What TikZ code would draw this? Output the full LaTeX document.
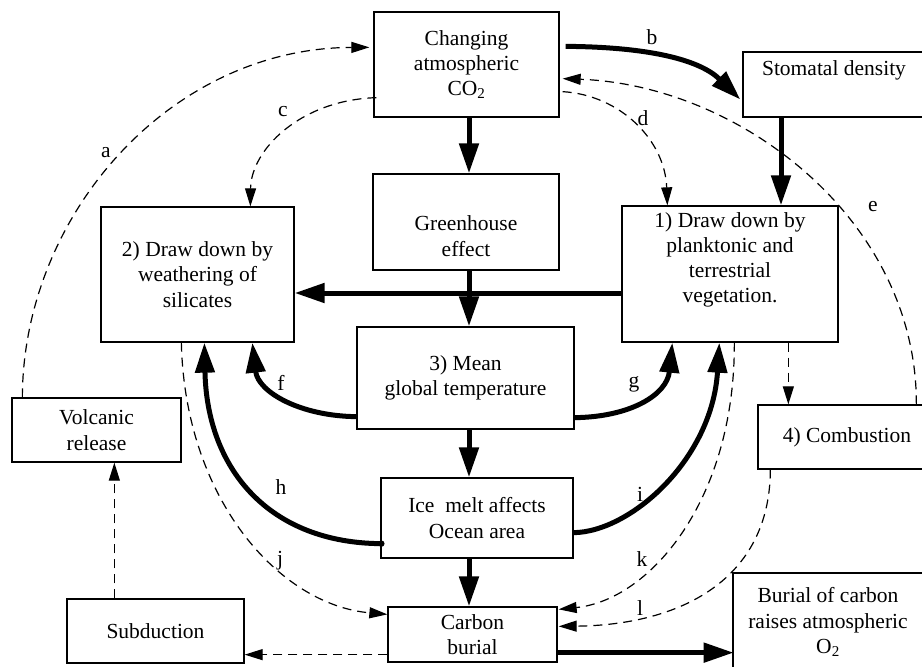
\documentclass[tikz,border=0pt]{standalone}
\usepackage{fontspec}
\setmainfont{Liberation Serif}
\usetikzlibrary{arrows.meta,calc}
\begin{document}
\begin{tikzpicture}[x=1pt,y=-1pt,
  box/.style={draw,line width=1.3pt,inner sep=0pt,align=center,font=\fontsize{21.5}{25.3}\selectfont},
  lbl/.style={inner sep=0pt,font=\fontsize{21.5}{25.3}\selectfont},
  thickarrow/.style={line width=5pt,-{Triangle[length=30pt,width=19pt]}},
  dasharrow/.style={line width=1.2pt,dash pattern=on 9pt off 6pt,-{Triangle[length=18pt,width=11pt]}},
  dashline/.style={line width=1.2pt,dash pattern=on 9pt off 6pt}
]
\useasboundingbox (0,0) rectangle (922,667);
\clip (0,0) rectangle (922,667);
% boxes
\node[box,minimum width=185pt,minimum height=105pt] (co2) at (466.5,64.5) {Changing\\atmospheric\\CO\textsubscript{2}};
\node[box,minimum width=182pt,minimum height=65pt] (stom) at (834,84.5) {Stomatal density\\\strut};
\node[box,minimum width=186pt,minimum height=96pt] (gh) at (466,222) {\strut\\Greenhouse\\effect};
\node[box,minimum width=193pt,minimum height=135pt] (dtwo) at (197.5,274.5) {2) Draw down by\\weathering of\\silicates};
\node[box,minimum width=216pt,minimum height=136pt] (done) at (730,274) {1) Draw down by\\planktonic and\\terrestrial\\vegetation.\\\strut};
\node[box,minimum width=217pt,minimum height=102pt] (mean) at (465.5,378) {3) Mean\\global temperature};
\node[box,minimum width=192pt,minimum height=80pt] (ice) at (477,518) {Ice~ melt affects\\Ocean area};
\node[box,minimum width=169pt,minimum height=55pt] (carbon) at (472.5,634.5) {Carbon\\burial};
\node[box,minimum width=169pt,minimum height=64pt] (volc) at (96.5,430) {Volcanic\\release};
\node[box,minimum width=177pt,minimum height=64pt] (subd) at (155.5,631) {Subduction};
\node[box,minimum width=178pt,minimum height=64pt] (comb) at (847,437) {4) Combustion};
\node[box,minimum width=190pt,minimum height=98pt] (burial) at (828,622) {Burial of carbon\\raises atmospheric\\O\textsubscript{2}};
% helper coordinates
\coordinate (vx) at (469,0);
\coordinate (hy) at (0,293);
\coordinate (sx) at (781,0);
% thick straight arrows
\draw[thickarrow] (done.west |- hy) -- (dtwo.east |- hy);
\draw[thickarrow] (co2.south -| vx) -- (gh.north -| vx);
\draw[thickarrow] (gh.south -| vx) -- (mean.north -| vx);
\draw[thickarrow] (mean.south -| vx) -- (ice.north -| vx);
\draw[thickarrow] (ice.south -| vx) -- (carbon.north -| vx);
\draw[thickarrow] (stom.south -| sx) -- (done.north -| sx);
\draw[thickarrow] ($(carbon.south east)+(0,-10)$) -- ($(carbon.south east)+(176,-10)$) coordinate (bt);
% thick curved arrows
\draw[thickarrow] ($(co2.north east)+(6,35)$) .. controls (650,47) and (700,60) .. ($(stom.west)+(-2,15)$);
\draw[thickarrow] ($(mean.south west)+(0,-13)$) .. controls (300,416) and (258,392) .. ($(dtwo.south west)+(152,0)$);
\draw[thickarrow] ($(mean.south east)+(0,-12)$) .. controls (630,417) and (667,395) .. ($(done.south west)+(51,0)$);
\fill ($(ice.south west)+(1,-15)$) circle (3.2pt);
\draw[thickarrow] ($(ice.south west)+(1,-15)$) .. controls (270,543) and (207,470) .. ($(dtwo.south west)+(104,0)$);
\draw[thickarrow] ($(ice.south east)+(0,-26)$) .. controls (630,532) and (712,460) .. ($(done.south west)+(98,0)$);
% dashed arrows
\draw[dasharrow] ($(volc.north west)+(11,0)$) .. controls (23,215) and (170,48) .. ($(co2.north west)+(-4,36)$);
\draw[dasharrow] ($(co2.south west)+(3,-20)$) .. controls (300,100) and (251,150) .. ($(dtwo.north west)+(150,0)$);
\draw[dasharrow] ($(co2.south east)+(3,-26)$) .. controls (620,95) and (665,140) .. ($(done.north west)+(46,0)$);
\draw[dasharrow] ($(comb.north west)+(159,0)$) .. controls (917,220) and (740,85) .. ($(co2.south east)+(3,-39)$);
\draw[dasharrow] ($(done.south west)+(167,0)$) -- ($(comb.north west)+(31,0)$);
\draw[dasharrow] ($(dtwo.south west)+(81,0)$) .. controls (185,500) and (280,605) .. ($(carbon.north west)+(0,8)$);
\draw[dasharrow] ($(done.south west)+(113,0)$) .. controls (735,500) and (650,600) .. ($(carbon.north east)+(1,3)$);
\draw[dasharrow] ($(comb.south west)+(13,0)$) .. controls (770,580) and (680,625) .. ($(carbon.north east)+(1,20)$);
\coordinate (cb) at ($(carbon.south west)+(0,-8)$);
\draw[dasharrow] (cb) -- (cb -| subd.east);
\coordinate (sv) at ($(subd.north west)+(48,0)$);
\draw[dasharrow] (sv) -- (sv |- volc.south);
% labels
\node[lbl] (la) at (106,153) {a};
\node[lbl] (lb) at (652,37) {b};
\node[lbl] (lc) at (283,112) {c};
\node[lbl] (ld) at (643,118) {d};
\node[lbl] (le) at (873,207) {e};
\node[lbl] (lf) at (281,383) {f};
\node[lbl] (lg) at (634,384) {g};
\node[lbl] (lh) at (281,487) {h};
\node[lbl] (li) at (640,494) {i};
\node[lbl] (lj) at (280,561) {j};
\node[lbl] (lk) at (642,559) {k};
\node[lbl] (ll) at (640,608) {l};
\end{tikzpicture}
\end{document}
